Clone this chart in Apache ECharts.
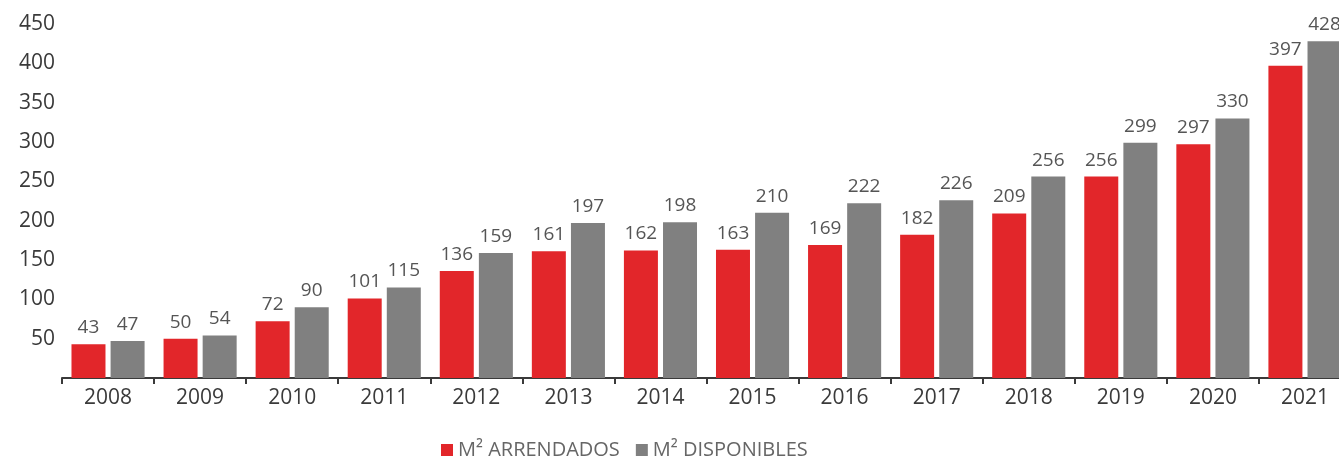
<!DOCTYPE html>
<html><head><meta charset="utf-8">
<script src="https://cdn.jsdelivr.net/npm/echarts@6/dist/echarts.min.js"></script>
<style>html,body{margin:0;padding:0;background:#fff}#c{width:1339px;height:459px}</style>
</head><body><div id="c"></div>
<script>
const categories = ['2008','2009','2010','2011','2012','2013','2014','2015','2016','2017','2018','2019','2020','2021'];
const arrendados = [43,50,72,101,136,161,162,163,169,182,209,256,297,397];
const disponibles = [47,54,90,115,159,197,198,210,222,226,256,299,330,428];
const seriesNames = ['M² ARRENDADOS','M² DISPONIBLES'];
const font = 'Open Sans';
const chart = echarts.init(document.getElementById('c'));
const lbl = {show:true, position:'top', distance:7, color:'#555', fontSize:19, fontFamily:font};
chart.setOption({
  animation:false,
  grid:{left:62, width:1289, top:24, bottom:81, containLabel:false, outerBoundsMode:'none'},
  legend:{top:435, left:436, itemWidth:12, itemHeight:12, itemGap:16, icon:'rect',
    textStyle:{color:'#666', fontSize:20, fontFamily:font}, data:seriesNames},
  xAxis:{type:'category', data:categories,
    axisLine:{lineStyle:{color:'#3a3a3a', width:2}},
    axisTick:{show:true, length:6, lineStyle:{color:'#3a3a3a', width:2}},
    axisLabel:{color:'#3a3a3a', fontSize:21, fontFamily:font, margin:10}},
  yAxis:{type:'value', min:0, max:450, interval:50,
    axisLine:{show:false}, axisTick:{show:false}, splitLine:{show:false},
    axisLabel:{color:'#3a3a3a', fontSize:21, fontFamily:font, margin:7,
      formatter:v=>v===0?'':String(v)}},
  series:[
    {name:seriesNames[0], type:'bar', data:arrendados, barWidth:34, barGap:'15%',
     itemStyle:{color:'#E2262A'}, label:lbl},
    {name:seriesNames[1], type:'bar', data:disponibles, barWidth:34,
     itemStyle:{color:'#808080'}, label:lbl}
  ]
});
</script></body></html>
